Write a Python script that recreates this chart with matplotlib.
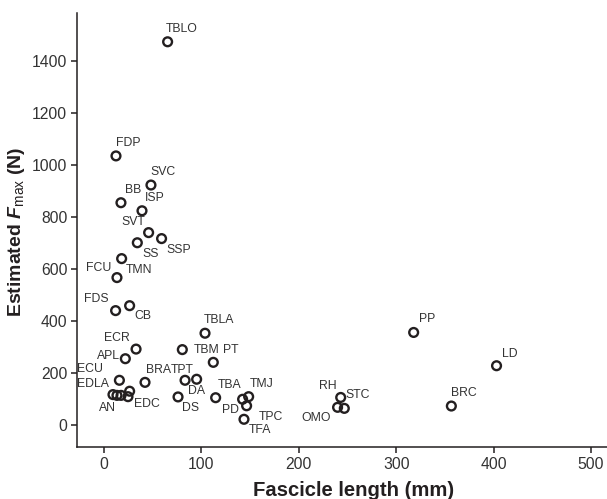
import matplotlib
matplotlib.use("Agg")
import matplotlib.pyplot as plt

plt.rcParams['font.family'] = ['Liberation Sans', 'DejaVu Sans']
plt.rcParams['mathtext.fontset'] = 'custom'
plt.rcParams['mathtext.rm'] = 'Liberation Sans'
plt.rcParams['mathtext.it'] = 'Liberation Sans:italic'
plt.rcParams['mathtext.bf'] = 'Liberation Sans:bold'
plt.rcParams['mathtext.bfit'] = 'Liberation Sans:bold:italic'

# Data
muscles = ['TBLO', 'FDP', 'SVC', 'BB', 'ISP', 'SVT', 'SSP', 'SS', 'TMN', 'FCU',
           'FDS', 'CB', 'TBLA', 'ECR', 'APL', 'TBM', 'PT', 'ECU', 'BRA', 'TPT',
           'DA', 'AN', 'EDLA', '', '', 'EDC', 'DS', 'TBA', 'TMJ', 'PD',
           'TPC', 'TFA', 'RH', 'STC', 'OMO', 'PP', 'LD', 'BRC']
fascicle_length = [65.3, 12.3, 48.2, 17.4, 39.0, 45.8, 59.1, 34.2, 18.1, 13.3,
                   11.9, 26.3, 103.7, 32.9, 21.9, 80.4, 112.2, 15.8, 42.1, 83.2,
                   95.1, 9.2, 13.3, 17.5, 26.3, 24.6, 76.0, 114.6, 148.5, 142.3,
                   146.4, 143.7, 243.0, 246.7, 239.8, 317.9, 403.0, 356.6]
fmax = [1474, 1035, 923, 855, 824, 740, 717, 701, 640, 567,
        440, 459, 353, 292, 255, 290, 241, 172, 164, 172,
        176, 117, 114, 114, 130, 109, 108, 105, 109, 99,
        74, 22, 106, 64, 68, 356, 228, 73]
x_ticks = [0, 100, 200, 300, 400, 500]
y_ticks = [0, 200, 400, 600, 800, 1000, 1200, 1400]

# label offsets in pixels (dx, dy up)
label_offsets = {
    'TBLO': (14, 13), 'FDP': (12, 13), 'SVC': (12, 13), 'BB': (12, 13),
    'ISP': (13, 13), 'SVT': (-15, 11), 'SS': (13, -11), 'SSP': (17, -11),
    'TMN': (17, -11), 'FCU': (-18, 10), 'FDS': (-19, 12), 'CB': (13, -10),
    'TBLA': (14, 13), 'ECR': (-19, 11), 'APL': (-17, 3), 'TBM': (24, 0),
    'PT': (17, 12), 'ECU': (-29, 11), 'BRA': (13, 12), 'TPT': (-3, 10),
    'DA': (0, -12), 'AN': (-6, -13), 'EDLA': (-24, 11), 'EDC': (19, -7),
    'DS': (13, -11), 'TBA': (14, 13), 'TMJ': (13, 13), 'PD': (-12, -11),
    'TPC': (24, -11), 'TFA': (16, -11), 'RH': (-13, 11), 'STC': (13, 13),
    'OMO': (-21, -11), 'PP': (13, 13), 'LD': (13, 12), 'BRC': (13, 13),
}

TXT = '#231f20'
fig = plt.figure(figsize=(6.07, 4.99), dpi=100)
ax = fig.add_axes([0.1269, 0.1042, 0.8731, 0.8697])

ax.scatter(fascicle_length, fmax, s=40, facecolors='none', edgecolors=TXT,
           linewidths=1.7, zorder=3, clip_on=False)

for name, xv, yv in zip(muscles, fascicle_length, fmax):
    if not name:
        continue
    dx, dy = label_offsets[name]
    ax.annotate(name, (xv, yv), xytext=(dx, dy), textcoords='offset pixels',
                ha='center', va='center', fontsize=8.8, color='#333333')

ax.set_xlim(-27.7, 516.4)
ax.set_ylim(-84.6, 1584.6)
ax.set_xticks(x_ticks)
ax.set_yticks(y_ticks)
ax.spines['top'].set_visible(False)
ax.spines['right'].set_visible(False)
for s in ['left', 'bottom']:
    ax.spines[s].set_linewidth(1.1)
    ax.spines[s].set_color(TXT)
ax.tick_params(direction='out', length=4, width=1.1, colors=TXT,
               labelsize=11.3, labelcolor='#333333', pad=3)

ax.set_xlabel('Fascicle length (mm)', fontsize=14.6, fontweight='bold',
              color=TXT)
ax.set_ylabel(r'Estimated $\mathbfit{F}_{\mathrm{max}}$ (N)', fontsize=14,
              fontweight='bold', color=TXT)
ax.xaxis.set_label_coords(0.521, -0.078)
ax.yaxis.set_label_coords(-0.094, 0.497)

fig.savefig('out.png', dpi=100)
